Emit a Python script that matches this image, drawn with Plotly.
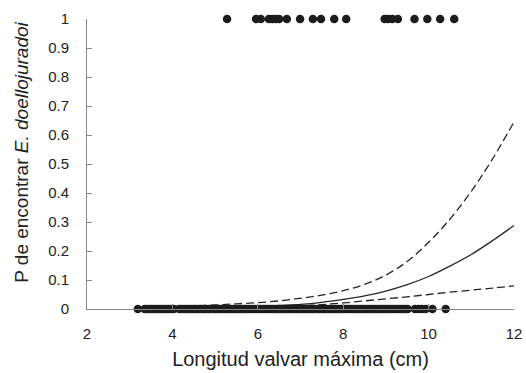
import plotly.graph_objects as go

# Observations: valve length (cm) with presence (1) / absence (0)
present_x = [5.28, 5.96, 6.07, 6.26, 6.34, 6.42, 6.50, 6.68, 6.99, 7.29, 7.48, 7.79, 8.07,
             8.97, 9.05, 9.15, 9.28, 9.67, 9.97, 10.27, 10.60]
absent_x = [3.19, 3.35, 3.41, 3.47, 3.52, 3.58, 3.63, 3.69, 3.74, 3.80, 3.86, 3.91, 3.97, 4.03,
            4.16, 4.22, 4.28, 4.33, 4.39, 4.45, 4.51, 4.56, 4.62, 4.68, 4.74, 4.79, 4.85, 4.91,
            4.97, 5.02, 5.08, 5.14, 5.20, 5.25, 5.31, 5.37, 5.43, 5.48, 5.54, 5.60, 5.66, 5.71,
            5.77, 5.83, 5.89, 5.94, 6.00, 6.06, 6.12, 6.17, 6.23, 6.29, 6.35, 6.40, 6.46, 6.52,
            6.58, 6.63, 6.69, 6.75, 6.81, 6.86, 6.92, 6.98, 7.04, 7.09, 7.15, 7.21, 7.27, 7.32,
            7.38, 7.44, 7.50, 7.55, 7.61, 7.67, 7.73, 7.78, 7.84, 7.90, 7.96, 8.01, 8.07, 8.13,
            8.19, 8.24, 8.30, 8.36, 8.42, 8.47, 8.53, 8.59, 8.65, 8.70, 8.76, 8.82, 8.88, 8.93,
            8.99, 9.05, 9.11, 9.16, 9.22, 9.28, 9.34, 9.39, 9.45, 9.51,
            9.68, 9.76, 9.84, 9.93, 10.09, 10.40]

# Fitted logistic curve and confidence limits
curve_x = [3.2, 4, 5, 5.5, 6, 6.5, 7, 7.5, 8, 8.5, 9, 9.5, 10, 10.5, 11, 11.5, 12]
fit_p = [0.001, 0.002, 0.004, 0.006, 0.008, 0.012, 0.016, 0.023, 0.033, 0.045, 0.062, 0.084,
         0.112, 0.148, 0.188, 0.236, 0.288]
upper_p = [0.006, 0.009, 0.014, 0.018, 0.022, 0.028, 0.037, 0.048, 0.063, 0.085, 0.117,
           0.164, 0.230, 0.310, 0.406, 0.518, 0.645]
lower_p = [0.0, 0.0, 0.001, 0.002, 0.003, 0.006, 0.010, 0.015, 0.021, 0.028, 0.035, 0.042,
           0.050, 0.058, 0.065, 0.072, 0.080]

y_ticks = [0, 0.1, 0.2, 0.3, 0.4, 0.5, 0.6, 0.7, 0.8, 0.9, 1]
y_tick_text = ["0", "0.1", "0.2", "0.3", "0.4", "0.5", "0.6", "0.7", "0.8", "0.9", "1"]
x_ticks = [2, 4, 6, 8, 10, 12]

line_col = "#262626"
dot_col = "#1c1c1c"
axis_col = "#888888"
dash = "8px,4px"

fig = go.Figure()
fig.add_trace(go.Scatter(x=curve_x, y=upper_p, mode="lines", line=dict(color=line_col, width=1.3, dash=dash),
                         line_shape="spline", showlegend=False, cliponaxis=False))
fig.add_trace(go.Scatter(x=curve_x, y=lower_p, mode="lines", line=dict(color=line_col, width=1.3, dash=dash),
                         line_shape="spline", showlegend=False, cliponaxis=False))
fig.add_trace(go.Scatter(x=curve_x, y=fit_p, mode="lines", line=dict(color=line_col, width=1.3),
                         line_shape="spline", showlegend=False, cliponaxis=False))
fig.add_trace(go.Scatter(x=absent_x, y=[0] * len(absent_x), mode="markers",
                         marker=dict(color=dot_col, size=8.5), showlegend=False, cliponaxis=False))
fig.add_trace(go.Scatter(x=present_x, y=[1] * len(present_x), mode="markers",
                         marker=dict(color=dot_col, size=8.5), showlegend=False, cliponaxis=False))

font_family = "Liberation Sans, Arial, sans-serif"
fig.update_layout(
    width=526, height=373,
    margin=dict(l=87, r=12, t=19, b=64, autoexpand=False),
    plot_bgcolor="white", paper_bgcolor="white",
    font=dict(family=font_family, color="#222222"),
    xaxis=dict(range=[2, 12], tickvals=x_ticks, ticks="inside", ticklen=5, tickcolor=axis_col,
               showline=True, linecolor=axis_col, linewidth=1, showgrid=False, zeroline=False,
               automargin=False,
               tickfont=dict(size=15, family=font_family, color="#222222"), ticklabelstandoff=11,
               title=dict(text="Longitud valvar máxima (cm)", font=dict(size=20, family=font_family, color="#222222"),
                          standoff=10)),
    # labelled axis: invisible outside ticks push the labels away from the axis line
    yaxis=dict(range=[0, 1], tickvals=y_ticks, ticktext=y_tick_text, ticks="outside", ticklen=14,
               tickcolor="rgba(255,255,255,0)", showline=True, linecolor=axis_col, linewidth=1,
               showgrid=False, zeroline=False, automargin=False,
               tickfont=dict(size=15, family=font_family, color="#222222")),
    # overlay axis: the short inside tick marks
    yaxis2=dict(range=[0, 1], tickvals=y_ticks, ticks="inside", ticklen=5, tickcolor=axis_col,
                showticklabels=False, showline=False, showgrid=False, zeroline=False,
                overlaying="y", side="left", matches="y", automargin=False),
    annotations=[dict(text="P de encontrar <i>E. doellojuradoi</i>", textangle=-90,
                      xref="paper", yref="paper", x=-0.152, y=0.539, xanchor="center", yanchor="middle",
                      showarrow=False, font=dict(size=19, family=font_family, color="#222222"))],
)
# an empty trace so the overlay axis is drawn
fig.add_trace(go.Scatter(x=[None], y=[None], yaxis="y2", showlegend=False, hoverinfo="skip"))

fig.write_html("out.html", config={"displayModeBar": False},
               post_script="document.body.style.margin='0';")
